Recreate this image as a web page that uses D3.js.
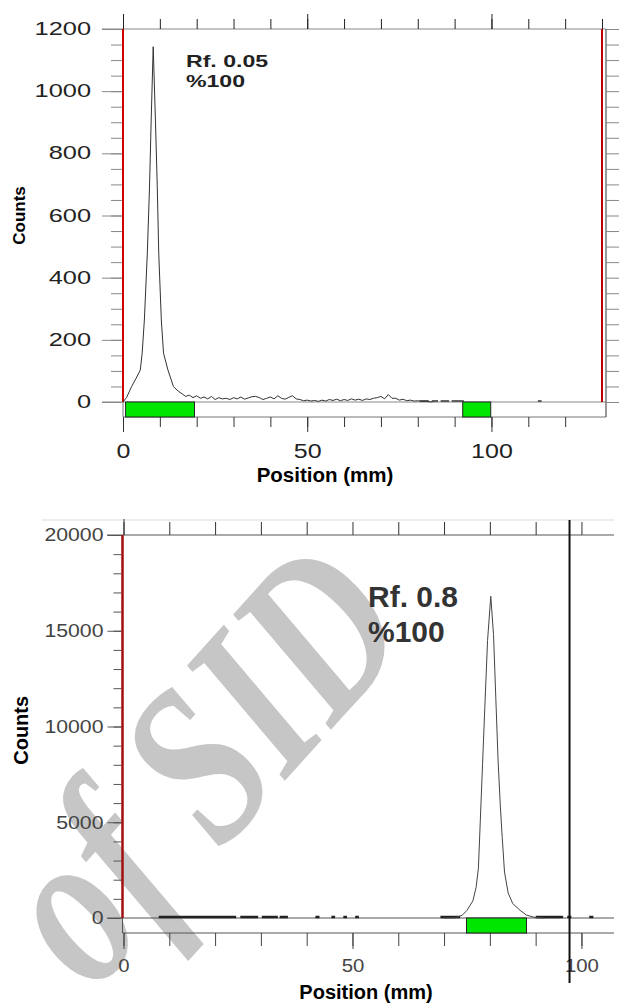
<!DOCTYPE html>
<html lang="en">
<head>
<meta charset="utf-8">
<title>Radio-TLC scans</title>
<style>
  body { margin: 0; background: #fff; }
  svg { display: block; }
</style>
</head>
<body>
<svg></svg>
<script src="https://d3js.org/d3.v7.min.js"></script>
<script>
// ---- top scan (Rf 0.05) ----
var topPos = [0, 1, 2.3, 3.5, 4.7, 5.2, 5.8, 6.6, 7.2, 7.65, 8.2, 8.8, 9.3, 9.7, 10.4, 11, 12.2, 13.7, 15, 16.2,
  17, 18, 19, 20, 21, 22, 23, 24, 25, 26, 27, 28, 29, 30, 31, 32, 33, 34, 35, 36, 37, 38, 39, 40,
  41, 42, 43, 44, 45, 46, 47, 48, 49, 50, 51, 52, 53, 54, 55, 56, 57, 58, 59, 60, 61, 62, 63, 64,
  65, 66, 67, 68, 69, 70, 71, 72, 73, 74, 75, 76, 77, 78, 79, 80, 81, 82, 83, 84];
var topCounts = [0, 15, 49, 75, 103, 157, 264, 479, 692, 907, 1143, 907, 692, 479, 264, 157, 103, 49, 35, 25,
  18, 22, 14, 20, 12, 16, 10, 18, 8, 14, 10, 12, 8, 14, 10, 16, 9, 13, 17, 18, 14, 8, 12, 16,
  10, 20, 12, 9, 15, 20, 10, 8, 4, 6, 3, 5, 2, 6, 3, 8, 5, 9, 4, 8, 5, 10, 6, 9,
  5, 10, 8, 12, 14, 18, 10, 24, 12, 12, 6, 9, 4, 6, 3, 4, 2, 3, 1, 0];
var topBands = [[0.7, 19.4], [92.2, 99.8]];
var topDashes = [[80.5, 83], [83.8, 85.5], [86.2, 88.5], [89.2, 92.5], [112.6, 113.6]];
var topYTicks = [0, 200, 400, 600, 800, 1000, 1200];
var topXLabels = [0, 50, 100];

// ---- bottom scan (Rf 0.8) ----
var botPos = [70, 72.5, 74, 75, 76.3, 77, 77.5, 77.9, 78.4, 78.9, 79.5, 80.2, 80.8, 81.3, 81.8, 82.3, 82.7, 83.2, 84, 85, 86.6, 88, 90, 92];
var botCounts = [0, 10, 150, 400, 900, 1600, 2600, 5000, 8000, 11000, 14500, 16800, 14800, 11500, 8200, 5800, 4200, 2400, 1300, 750, 400, 150, 20, 0];
var botBands = [[74.9, 88]];
var botDashes = [[7.7, 24.6], [25.5, 29.4], [30.2, 33.7], [34.1, 35.9], [41.9, 42.8], [45.4, 46.2], [48, 48.8],
  [50.6, 51.4], [69.2, 73.5], [90, 96], [96.9, 97.8], [101.7, 102.6]];
var botMarker = 97.4;
var botYTicks = [0, 5000, 10000, 15000, 20000];
var botXLabels = [0, 50, 100];

var W = 619, H = 1003;
var font = "'Liberation Sans', Arial, sans-serif";

var svg = d3.select('svg')
    .attr('width', W)
    .attr('height', H)
    .attr('font-family', font);

svg.append('rect').attr('width', W).attr('height', H).attr('fill', '#fff');

// watermark, behind the plots
svg.append('text')
    .attr('transform', 'translate(93,994) rotate(-48) scale(1,1.3)')
    .attr('font-family', "'Liberation Serif', 'DejaVu Serif', serif")
    .attr('font-style', 'italic')
    .attr('font-weight', 'bold')
    .attr('font-size', 176)
    .attr('fill', '#c6c6c6')
    .text('of SID');

function styleAxis(g, col, size) {
  g.select('.domain').remove();
  g.selectAll('line').attr('stroke', col);
  g.attr('font-family', font).attr('font-size', size);
  g.selectAll('text').attr('fill', '#222');
}

function hline(g, y, x1, x2, col, w) {
  g.append('line').attr('x1', x1).attr('x2', x2).attr('y1', y).attr('y2', y)
      .attr('stroke', col).attr('stroke-width', w || 1);
}
function vline(g, x, y1, y2, col, w) {
  g.append('line').attr('x1', x).attr('x2', x).attr('y1', y1).attr('y2', y2)
      .attr('stroke', col).attr('stroke-width', w || 1);
}

// ================= top chart =================
var xT = d3.scaleLinear().domain([0, 130]).range([123, 602]);
var yT = d3.scaleLinear().domain([0, 1200]).range([402, 29]);
var gTop = svg.append('g');
var topLow = yT(0) + 15;

hline(gTop, yT(1200), 102, 606, '#888');
hline(gTop, yT(0), 102, 606, '#888');
hline(gTop, topLow, xT(0), 606, '#777');
vline(gTop, xT(0), yT(0), topLow, '#777');
vline(gTop, 606, yT(1200), topLow, '#333');

// ticks
gTop.append('g').attr('transform', 'translate(0,' + yT(1200) + ')')
    .call(d3.axisTop(xT).tickValues(d3.range(0, 131, 10)).tickSize(10).tickFormat(''))
    .call(styleAxis, '#222', 16);
gTop.append('g').attr('transform', 'translate(0,' + yT(1200) + ')')
    .call(d3.axisTop(xT).tickValues(topXLabels).tickSize(15).tickFormat(''))
    .call(styleAxis, '#222', 16);

gTop.append('g').attr('transform', 'translate(' + (xT(0) - 1) + ',0)')
    .call(d3.axisLeft(yT).tickValues(d3.range(0, 1201, 50)).tickSize(11).tickFormat(''))
    .call(styleAxis, '#888', 16);
var topLeft = gTop.append('g').attr('transform', 'translate(' + (xT(0) - 1) + ',0)')
    .call(d3.axisLeft(yT).tickValues(topYTicks).tickSize(20).tickPadding(12).tickFormat(d3.format('d')))
    .call(styleAxis, '#888', 17.5);
// the scan software stretches its labels sideways
topLeft.selectAll('text')
    .attr('x', -31 / 1.45)
    .attr('transform', 'scale(1.45,1)');

gTop.append('g').attr('transform', 'translate(606,0)')
    .call(d3.axisRight(yT).tickValues(d3.range(0, 1201, 50)).tickSize(13).tickFormat(''))
    .call(styleAxis, '#888', 16);

gTop.append('g').attr('transform', 'translate(0,' + topLow + ')')
    .call(d3.axisBottom(xT).tickValues(d3.range(0, 121, 10)).tickSize(10).tickFormat(''))
    .call(styleAxis, '#333', 16);
var topBottom = gTop.append('g').attr('transform', 'translate(0,' + topLow + ')')
    .call(d3.axisBottom(xT).tickValues(topXLabels).tickSize(15).tickPadding(12).tickFormat(d3.format('d')))
    .call(styleAxis, '#333', 20);
topBottom.selectAll('text').attr('transform', 'scale(1.25,1)');

// red start / front lines
vline(gTop, xT(0), yT(1200), yT(0), '#d00000', 2);
vline(gTop, xT(130), yT(1200), yT(0), '#c00000', 2);

// integration regions
gTop.selectAll('rect.band')
    .data(topBands)
    .enter()
    .append('rect')
    .attr('class', 'band')
    .attr('x', function(d) { return xT(d[0]); })
    .attr('width', function(d) { return xT(d[1]) - xT(d[0]); })
    .attr('y', yT(0))
    .attr('height', topLow - yT(0))
    .attr('fill', '#00e600')
    .attr('stroke', '#222');

gTop.selectAll('line.dash')
    .data(topDashes)
    .enter()
    .append('line')
    .attr('class', 'dash')
    .attr('x1', function(d) { return xT(d[0]); })
    .attr('x2', function(d) { return xT(d[1]); })
    .attr('y1', yT(0) - 1)
    .attr('y2', yT(0) - 1)
    .attr('stroke', '#333')
    .attr('stroke-width', 1.5);

var topLine = d3.line()
    .x(function(d, i) { return xT(topPos[i]); })
    .y(function(d) { return yT(d); });

gTop.append('path')
    .datum(topCounts)
    .attr('d', topLine)
    .attr('fill', 'none')
    .attr('stroke', '#333')
    .attr('stroke-width', 1);

gTop.append('text')
    .attr('transform', 'translate(186,67) scale(1.4,1)')
    .attr('font-weight', 'bold').attr('font-size', 16.5).attr('fill', '#222')
    .text('Rf. 0.05');
gTop.append('text')
    .attr('transform', 'translate(186,87) scale(1.4,1)')
    .attr('font-weight', 'bold').attr('font-size', 16.5).attr('fill', '#222')
    .text('%100');

gTop.append('text')
    .attr('transform', 'translate(25,' + yT(600) + ') rotate(-90)')
    .attr('text-anchor', 'middle')
    .attr('font-weight', 'bold').attr('font-size', 17)
    .text('Counts');
gTop.append('text')
    .attr('x', 325).attr('y', 482)
    .attr('text-anchor', 'middle')
    .attr('font-weight', 'bold').attr('font-size', 20.5)
    .text('Position (mm)');

// ================= bottom chart =================
var xB = d3.scaleLinear().domain([0, 107]).range([123.5, 613.5]);
var yB = d3.scaleLinear().domain([0, 20000]).range([918, 535]);
var gBot = svg.append('g');
var botLow = yB(0) + 15;

hline(gBot, 520, 42, 614, '#ddd');
hline(gBot, yB(20000), 107, 614, '#555');
hline(gBot, yB(0), 107, 614, '#555');
hline(gBot, botLow, xB(0) - 1, 614, '#555');
vline(gBot, xB(0) - 1, yB(0), botLow, '#555');

gBot.append('g').attr('transform', 'translate(0,' + yB(20000) + ')')
    .call(d3.axisTop(xB).tickValues(d3.range(0, 101, 10)).tickSize(13).tickFormat(''))
    .call(styleAxis, '#333', 18);
gBot.append('g').attr('transform', 'translate(0,' + yB(20000) + ')')
    .call(d3.axisTop(xB).tickValues([0]).tickSize(16).tickFormat(''))
    .call(styleAxis, '#333', 18);

gBot.append('g').attr('transform', 'translate(' + (xB(0) - 2) + ',0)')
    .call(d3.axisLeft(yB).tickValues(d3.range(0, 20001, 1000)).tickSize(8).tickFormat(''))
    .call(styleAxis, '#555', 18);
var botLeft = gBot.append('g').attr('transform', 'translate(' + (xB(0) - 2) + ',0)')
    .call(d3.axisLeft(yB).tickValues(botYTicks).tickSize(14).tickPadding(4).tickFormat(d3.format('d')))
    .call(styleAxis, '#555', 18.5);
botLeft.selectAll('text')
    .attr('fill', '#444')
    .attr('x', -18 / 1.15)
    .attr('transform', 'scale(1.15,1)');

gBot.append('g').attr('transform', 'translate(0,' + botLow + ')')
    .call(d3.axisBottom(xB).tickValues(d3.range(0, 101, 10)).tickSize(13).tickFormat(''))
    .call(styleAxis, '#444', 18);
var botBottom = gBot.append('g').attr('transform', 'translate(0,' + botLow + ')')
    .call(d3.axisBottom(xB).tickValues(botXLabels).tickSize(16).tickPadding(10).tickFormat(d3.format('d')))
    .call(styleAxis, '#444', 18.5);
botBottom.selectAll('text')
    .attr('fill', '#444')
    .attr('transform', 'scale(1.1,1)');

vline(gBot, xB(0) - 1, yB(20000), yB(0), '#a01010', 2.5);

gBot.selectAll('rect.band')
    .data(botBands)
    .enter()
    .append('rect')
    .attr('class', 'band')
    .attr('x', function(d) { return xB(d[0]); })
    .attr('width', function(d) { return xB(d[1]) - xB(d[0]); })
    .attr('y', yB(0))
    .attr('height', botLow - yB(0))
    .attr('fill', '#00e600')
    .attr('stroke', '#222');

gBot.selectAll('line.dash')
    .data(botDashes)
    .enter()
    .append('line')
    .attr('class', 'dash')
    .attr('x1', function(d) { return xB(d[0]); })
    .attr('x2', function(d) { return xB(d[1]); })
    .attr('y1', yB(0) - 1)
    .attr('y2', yB(0) - 1)
    .attr('stroke', '#222')
    .attr('stroke-width', 2.5);

var botLine = d3.line()
    .x(function(d, i) { return xB(botPos[i]); })
    .y(function(d) { return yB(d); });

gBot.append('path')
    .datum(botCounts)
    .attr('d', botLine)
    .attr('fill', 'none')
    .attr('stroke', '#444')
    .attr('stroke-width', 1);

// front marker
vline(gBot, xB(botMarker), 520, 983, '#111', 2);

gBot.append('text')
    .attr('x', 368).attr('y', 607)
    .attr('font-weight', 'bold').attr('font-size', 30).attr('fill', '#333')
    .text('Rf. 0.8');
gBot.append('text')
    .attr('x', 368).attr('y', 642)
    .attr('font-weight', 'bold').attr('font-size', 30).attr('fill', '#333')
    .text('%100');

gBot.append('text')
    .attr('transform', 'translate(28,' + yB(9800) + ') rotate(-90)')
    .attr('text-anchor', 'middle')
    .attr('font-weight', 'bold').attr('font-size', 20)
    .text('Counts');
gBot.append('text')
    .attr('x', 366).attr('y', 999)
    .attr('text-anchor', 'middle')
    .attr('font-weight', 'bold').attr('font-size', 20)
    .text('Position (mm)');
</script>
</body>
</html>
